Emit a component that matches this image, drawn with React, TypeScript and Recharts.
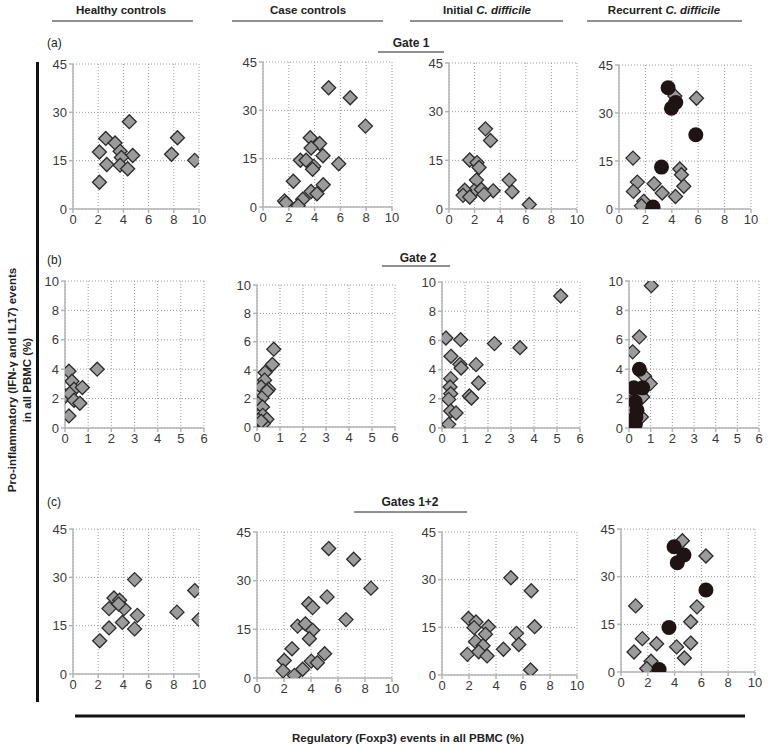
import { ScatterChart, Scatter, XAxis, YAxis, CartesianGrid } from "recharts";

type Pt = [number, number];

// tick labels
const ticksGate1 = [0, 15, 30, 45];
const ticksX10 = [0, 2, 4, 6, 8, 10];
const ticksGate2Y = [0, 2, 4, 6, 8, 10];
const ticksGate2X = [0, 1, 2, 3, 4, 5, 6];

const columns = ["Healthy controls", "Case controls", "Initial", "Recurrent"];

// (a) Gate 1
const healthyG1: Pt[] = [
  [4.47, 27.1], [2.6, 21.9], [8.29, 22.1], [3.34, 20.5], [2.1, 17.7], [3.74, 17.9], [4.74, 16.6],
  [7.82, 17.0], [3.84, 16.0], [2.68, 13.8], [3.74, 13.6], [4.34, 12.5], [9.66, 15.1], [2.1, 8.3],
];
const caseG1: Pt[] = [
  [5.09, 37.0], [6.76, 33.9], [7.94, 25.1], [3.66, 21.5], [4.39, 19.7], [3.73, 18.3], [4.65, 15.9],
  [2.9, 14.5], [3.34, 14.5], [5.87, 13.4], [3.94, 12.6], [3.84, 11.7], [2.35, 8.0], [4.67, 6.9],
  [3.73, 4.8], [4.18, 4.1], [3.08, 2.4], [1.67, 1.9], [1.78, 1.3], [2.72, 0.4],
];
const initialG1: Pt[] = [
  [2.85, 24.7], [3.24, 21.1], [1.62, 15.1], [2.19, 14.3], [2.35, 12.8], [2.14, 8.9], [4.7, 8.9],
  [4.93, 5.3], [3.45, 5.6], [1.96, 5.6], [2.53, 6.0], [1.23, 5.8], [1.1, 4.2], [1.62, 3.7],
  [2.74, 4.5], [6.27, 1.4],
];
const recurrentG1: Pt[] = [
  [5.87, 34.6], [4.23, 35.3], [1.06, 15.9], [4.61, 12.5], [4.73, 10.7], [1.39, 8.4], [2.66, 7.9],
  [4.91, 7.1], [1.09, 5.5], [3.27, 5.0], [4.28, 3.9], [1.87, 2.4], [1.7, 1.0],
];
const recurrentG1Black: Pt[] = [
  [3.72, 37.9], [4.3, 33.3], [3.97, 31.5], [5.82, 23.2], [3.22, 13.1], [2.58, 0.6],
];

// (b) Gate 2
const healthyG2: Pt[] = [
  [0.17, 3.86], [1.39, 4.0], [0.3, 3.18], [0.39, 2.64], [0.75, 2.75], [0.03, 2.18], [0.2, 2.34],
  [0.39, 1.89], [0.64, 1.68], [0.17, 0.82],
];
const caseG2: Pt[] = [
  [0.73, 5.48], [0.67, 4.4], [0.35, 3.84], [0.33, 3.3], [0.18, 2.82], [0.5, 2.66], [0.43, 2.52],
  [0.21, 2.05], [0.04, 1.65], [0.24, 1.41], [0.25, 0.82], [0.07, 0.47], [0.43, 0.54], [0.28, 0.24],
  [0.18, 0.4],
];
const initialG2: Pt[] = [
  [5.16, 9.04], [0.17, 6.16], [0.81, 6.05], [2.28, 5.78], [3.39, 5.5], [0.39, 4.91], [0.78, 4.36],
  [1.48, 4.34], [0.83, 4.11], [0.38, 3.38], [1.59, 3.08], [0.35, 2.81], [0.38, 2.35], [1.19, 2.19],
  [1.28, 2.05], [0.29, 1.96], [0.38, 1.16], [0.61, 1.03], [0.29, 0.25],
];
const recurrentG2: Pt[] = [
  [1.03, 9.68], [0.48, 6.2], [0.17, 5.18], [0.72, 3.52], [0.98, 3.02], [0.63, 2.11], [0.06, 1.77],
  [0.02, 1.09], [0.57, 0.75],
];
const recurrentG2Black: Pt[] = [
  [0.48, 4.0], [0.22, 2.73], [0.63, 2.73], [0.29, 1.77], [0.37, 1.2], [0.32, 0.75], [0.29, 0.25],
];

// (c) Gates 1+2
const healthyG12: Pt[] = [
  [4.89, 29.3], [9.66, 25.9], [3.25, 23.6], [3.7, 22.9], [2.86, 20.3], [4.05, 20.3], [3.62, 21.7],
  [5.11, 18.2], [8.25, 19.2], [10.0, 16.9], [3.92, 16.0], [2.86, 14.3], [4.89, 14.0], [2.12, 10.3],
];
const caseG12: Pt[] = [
  [5.31, 39.9], [7.16, 36.6], [8.44, 27.7], [5.19, 25.0], [3.83, 22.9], [4.12, 21.7], [3.01, 16.0],
  [3.58, 16.7], [6.59, 18.0], [4.12, 14.7], [3.88, 12.1], [2.59, 9.0], [5.01, 7.5], [2.02, 5.4],
  [4.02, 5.2], [4.47, 4.7], [3.38, 2.7], [1.93, 2.2], [2.77, 0.8],
];
const initialG12: Pt[] = [
  [5.1, 30.6], [6.61, 26.5], [1.96, 17.8], [2.52, 16.7], [2.38, 14.9], [3.44, 15.2], [6.86, 15.2],
  [3.22, 12.8], [5.52, 13.1], [2.48, 10.5], [3.04, 9.2], [5.69, 9.6], [4.55, 8.1], [1.88, 6.5],
  [2.72, 7.3], [3.34, 6.0], [6.56, 1.6],
];
const recurrentG12: Pt[] = [
  [4.58, 41.3], [6.34, 36.5], [1.09, 20.8], [5.67, 20.5], [5.2, 15.8], [1.59, 10.5], [2.66, 8.9],
  [5.2, 9.1], [4.15, 7.9], [0.97, 6.3], [4.73, 4.4], [2.24, 3.4], [1.92, 1.1],
];
const recurrentG12Black: Pt[] = [
  [3.96, 39.4], [4.7, 36.8], [4.2, 34.4], [6.34, 25.8], [3.58, 14.0], [2.84, 0.8],
];

const toData = (pts: Pt[]) => pts.map(([x, y]) => ({ x, y }));

const FONT = "'Liberation Sans', Arial, Helvetica, sans-serif";

const diamondShape = (p: any) => {
  const { cx, cy } = p;
  const r = 7;
  return (
    <path
      d={`M${cx},${cy - r}L${cx + r},${cy}L${cx},${cy + r}L${cx - r},${cy}Z`}
      fill="#9b9b9b"
      stroke="#2b2b2b"
      strokeWidth={1.3}
    />
  );
};

const dotShape = (p: any) => <circle cx={p.cx} cy={p.cy} r={7.5} fill="#1f1414" />;

interface PanelProps {
  box: [number, number, number, number]; // left, right, top, bottom of plot area
  xMax: number;
  xTicks: number[];
  yMax: number;
  yTicks: number[];
  grey: Pt[];
  black?: Pt[];
}

function Panel({ box, xMax, xTicks, yMax, yTicks, grey, black }: PanelProps) {
  const [l, r, t, b] = box;
  const yw = 34;
  const xh = 24;
  const mt = 8;
  const mr = 8;
  const axis = { stroke: "#b4b4b4", strokeWidth: 1.5 };
  return (
    <div style={{ position: "absolute", left: l - yw, top: t - mt }}>
      <ScatterChart
        width={r - l + yw + mr}
        height={b - t + mt + xh}
        margin={{ top: mt, right: mr, bottom: 0, left: 0 }}
      >
        <CartesianGrid stroke="#9a9a9a" strokeDasharray="1 2" />
        <XAxis
          type="number"
          dataKey="x"
          domain={[0, xMax]}
          ticks={xTicks}
          interval={0}
          height={xh}
          axisLine={axis}
          tickLine={axis}
          tickSize={4}
          tick={{ fontSize: 13, fill: "#3a3a3a" }}
          allowDataOverflow
        />
        <YAxis
          type="number"
          dataKey="y"
          domain={[0, yMax]}
          ticks={yTicks}
          interval={0}
          width={yw}
          axisLine={axis}
          tickLine={axis}
          tickSize={4}
          tick={{ fontSize: 13, fill: "#3a3a3a" }}
          allowDataOverflow
        />
        <Scatter data={toData(grey)} shape={diamondShape} isAnimationActive={false} />
        {black && <Scatter data={toData(black)} shape={dotShape} isAnimationActive={false} />}
      </ScatterChart>
    </div>
  );
}

export default function App() {
  const g1 = { xMax: 10, xTicks: ticksX10, yMax: 45, yTicks: ticksGate1 };
  const g2 = { xMax: 6, xTicks: ticksGate2X, yMax: 10, yTicks: ticksGate2Y };
  const headerX = [121, 308, 487, 664];
  const underline = [
    [52, 193],
    [232, 383],
    [410, 563],
    [587, 742],
  ];
  return (
    <div
      style={{
        position: "absolute",
        left: 0,
        top: 0,
        width: 768,
        height: 750,
        background: "#fff",
        fontFamily: FONT,
      }}
    >
      <svg width={768} height={750} style={{ position: "absolute", left: 0, top: 0 }}>
        {columns.map((c, i) => (
          <text key={c} x={headerX[i]} y={14} textAnchor="middle" fontSize={11.5} fontWeight="bold" fill="#222">
            {i >= 2 ? (
              <>
                {c} <tspan fontStyle="italic">C. difficile</tspan>
              </>
            ) : (
              c
            )}
          </text>
        ))}
        {underline.map(([a, z], i) => (
          <line key={i} x1={a} x2={z} y1={21} y2={21} stroke="#222" strokeWidth={1} />
        ))}

        <text x={47} y={47} fontSize={12} fill="#222">(a)</text>
        <text x={411} y={47} textAnchor="middle" fontSize={12} fontWeight="bold" fill="#222">Gate 1</text>
        <line x1={378} x2={444} y1={52} y2={52} stroke="#222" strokeWidth={1} />

        <text x={47} y={264} fontSize={12} fill="#222">(b)</text>
        <text x={418} y={262} textAnchor="middle" fontSize={12} fontWeight="bold" fill="#222">Gate 2</text>
        <line x1={382} x2={450} y1={266} y2={266} stroke="#222" strokeWidth={1} />

        <text x={47} y={506} fontSize={12} fill="#222">(c)</text>
        <text x={410} y={506} textAnchor="middle" fontSize={12} fontWeight="bold" fill="#222">Gates 1+2</text>
        <line x1={354} x2={467} y1={512} y2={512} stroke="#222" strokeWidth={1} />

        <line x1={37.5} x2={37.5} y1={62} y2={702} stroke="#111" strokeWidth={3} />
        <text transform="translate(16,380) rotate(-90)" textAnchor="middle" fontSize={11.5} fontWeight="bold" fill="#222">
          Pro-inflammatory (IFN-γ and IL17) events
        </text>
        <text transform="translate(31,380) rotate(-90)" textAnchor="middle" fontSize={11.5} fontWeight="bold" fill="#222">
          in all PBMC (%)
        </text>

        <line x1={75} x2={745} y1={716} y2={716} stroke="#111" strokeWidth={3} />
        <text x={408} y={742} textAnchor="middle" fontSize={11.5} fontWeight="bold" fill="#222">
          Regulatory (Foxp3) events in all PBMC (%)
        </text>
      </svg>

      <Panel box={[73, 199, 64, 209]} {...g1} grey={healthyG1} />
      <Panel box={[263, 392, 62, 207]} {...g1} grey={caseG1} />
      <Panel box={[449, 577, 63, 209]} {...g1} grey={initialG1} />
      <Panel box={[619, 751, 65, 209]} {...g1} grey={recurrentG1} black={recurrentG1Black} />

      <Panel box={[65, 204, 281, 428]} {...g2} grey={healthyG2} />
      <Panel box={[257, 395, 285, 427]} {...g2} grey={caseG2} />
      <Panel box={[442, 580, 282, 428]} {...g2} grey={initialG2} />
      <Panel box={[629, 759, 281, 428]} {...g2} grey={recurrentG2} black={recurrentG2Black} />

      <Panel box={[73, 199, 529, 674]} {...g1} grey={healthyG12} />
      <Panel box={[257, 392, 532, 678]} {...g1} grey={caseG12} />
      <Panel box={[442, 577, 532, 675]} {...g1} grey={initialG12} />
      <Panel box={[621, 755, 529, 672]} {...g1} grey={recurrentG12} black={recurrentG12Black} />
    </div>
  );
}
